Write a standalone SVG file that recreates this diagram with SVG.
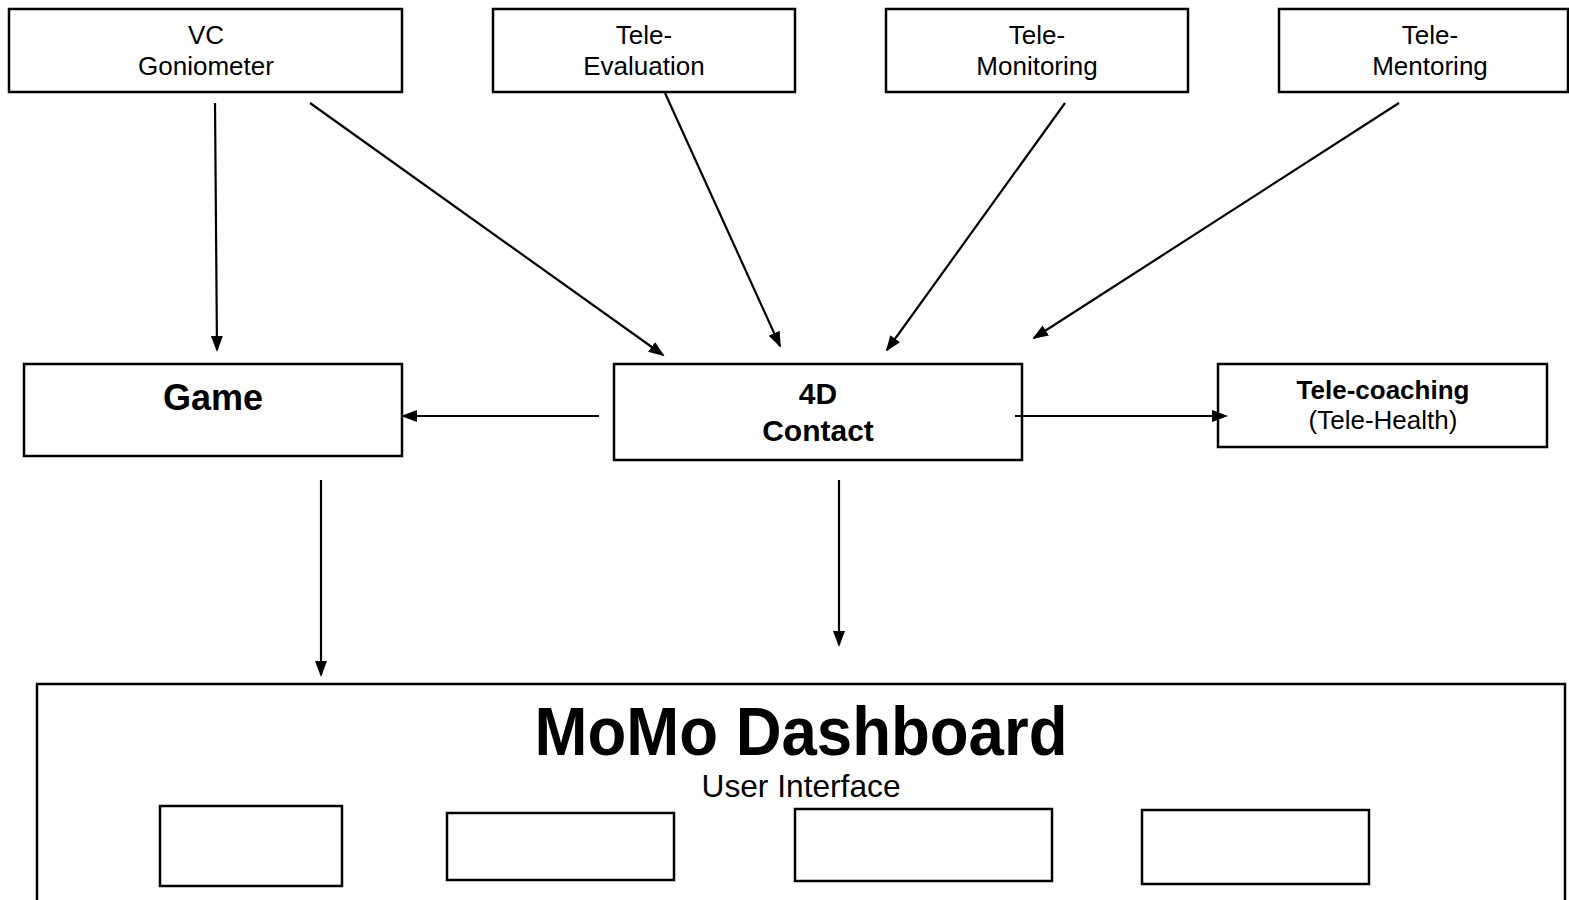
<svg xmlns="http://www.w3.org/2000/svg" width="1569" height="900" viewBox="0 0 1569 900">
<style>
.box{fill:#fff;stroke:#000;stroke-width:2.5}
.t{font-family:"Liberation Sans",Arial,sans-serif;fill:#000;text-anchor:middle}
.n{font-size:26px}
.b{font-weight:bold}
.c line{stroke:#000;stroke-width:2.2;marker-end:url(#ah)}
</style>
<defs>
<marker id="ah" markerUnits="userSpaceOnUse" markerWidth="16" markerHeight="14" refX="14" refY="6" orient="auto" viewBox="0 0 16 12">
<path d="M0,0 L16,6 L0,12 Z" fill="#000"/>
</marker>
</defs>
<rect width="1569" height="900" fill="#fff"/>
<g id="vc-goniometer"><rect class="box" x="9" y="9" width="393" height="83"/><text class="t n" x="206" y="44">VC</text><text class="t n" x="206" y="75">Goniometer</text></g>
<g id="tele-evaluation"><rect class="box" x="493" y="9" width="302" height="83"/><text class="t n" x="644" y="44">Tele-</text><text class="t n" x="644" y="75">Evaluation</text></g>
<g id="tele-monitoring"><rect class="box" x="886" y="9" width="302" height="83"/><text class="t n" x="1037" y="44">Tele-</text><text class="t n" x="1037" y="75">Monitoring</text></g>
<g id="tele-mentoring"><rect class="box" x="1279" y="9" width="289" height="83"/><text class="t n" x="1430" y="44">Tele-</text><text class="t n" x="1430" y="75">Mentoring</text></g>
<g id="game"><rect class="box" x="24" y="364" width="378" height="92"/><text class="t b" x="213" y="410" font-size="36">Game</text></g>
<g id="contact4d"><rect class="box" x="614" y="364" width="408" height="96"/><text class="t b" x="818" y="404" font-size="30">4D</text><text class="t b" x="818" y="441" font-size="30">Contact</text></g>
<g id="tele-coaching"><rect class="box" x="1218" y="364" width="329" height="83"/><text class="t n b" x="1383" y="399">Tele-coaching</text><text class="t n" x="1383" y="429">(Tele-Health)</text></g>
<g id="dashboard"><rect class="box" x="37" y="684" width="1528" height="240"/><text class="t b" x="801" y="755" font-size="68" textLength="533" lengthAdjust="spacingAndGlyphs">MoMo Dashboard</text><text class="t" x="801" y="797" font-size="32" textLength="199" lengthAdjust="spacingAndGlyphs">User Interface</text>
<rect class="box" x="160" y="806" width="182" height="80"/><rect class="box" x="447" y="813" width="227" height="67"/><rect class="box" x="795" y="809" width="257" height="72"/><rect class="box" x="1142" y="810" width="227" height="74"/></g>
<g id="connectors" class="c">
<line x1="215" y1="103" x2="217" y2="350"/>
<line x1="310" y1="103" x2="663" y2="355"/>
<line x1="665" y1="93" x2="780" y2="346"/>
<line x1="1065" y1="103" x2="887" y2="350"/>
<line x1="1399" y1="103" x2="1034" y2="338"/>
<line x1="599" y1="416" x2="403" y2="416"/>
<line x1="1015" y1="416" x2="1226" y2="416"/>
<line x1="321" y1="480" x2="321" y2="675"/>
<line x1="839" y1="480" x2="839" y2="645"/>
</g>
</svg>
